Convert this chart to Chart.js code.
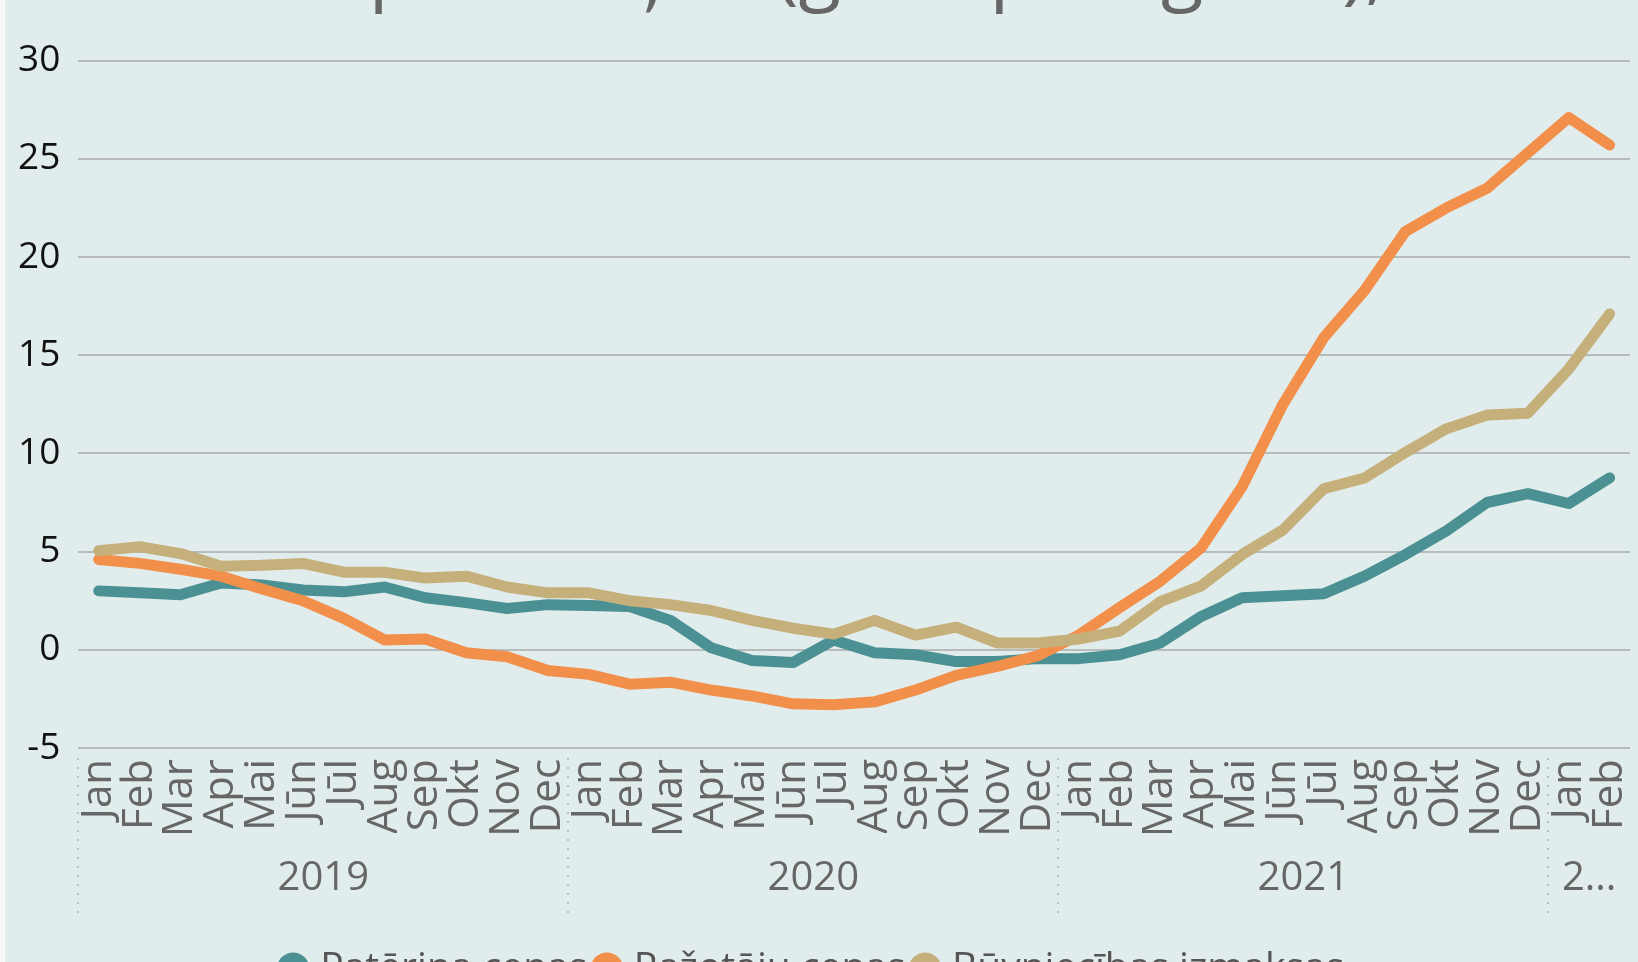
<!DOCTYPE html>
<html>
<head>
<meta charset="utf-8">
<script src="https://cdn.jsdelivr.net/npm/chart.js@4.4.1/dist/chart.umd.min.js"></script>
<style>
  html, body { margin: 0; padding: 0; overflow: hidden; background: #f6f8f8; width: 1638px; height: 962px; }
  #wrap { position: absolute; left: 0; top: -74px; width: 1638px; height: 1072px; background: #e1edec; }
  #edge { position: absolute; left: 0; top: 0; width: 5px; height: 962px; background: #f6f8f8; }
</style>
</head>
<body>
<div id="wrap"><canvas id="chart"></canvas></div>
<div id="edge"></div>
<script>
// cenu pārmaiņas — gads pret gadu, %
const monthNames = ["Jan", "Feb", "Mar", "Apr", "Mai", "Jūn", "Jūl", "Aug", "Sep", "Okt", "Nov", "Dec"];
const months = [...monthNames, ...monthNames, ...monthNames, "Jan", "Feb"];

const years = ["2019", "2020", "2021", "2..."];
const yearCenters = [5.5, 17.5, 29.5, 36.5];
const yearBounds = [-0.5, 11.5, 23.5, 35.5];

const consumerPrices = [
  3.0, 2.9, 2.8, 3.4, 3.3, 3.05, 2.95, 3.2, 2.65, 2.4, 2.1, 2.3,
  2.25, 2.2, 1.5, 0.1, -0.55, -0.65, 0.5, -0.15, -0.25, -0.6, -0.6, -0.45,
  -0.45, -0.25, 0.35, 1.7, 2.65, 2.75, 2.85, 3.75, 4.85, 6.05, 7.5, 7.95, 7.45, 8.75,
];
const producerPrices = [
  4.6, 4.4, 4.1, 3.75, 3.1, 2.5, 1.6, 0.5, 0.55, -0.15, -0.35, -1.05,
  -1.25, -1.75, -1.65, -2.05, -2.35, -2.75, -2.8, -2.65, -2.05, -1.3, -0.85, -0.3,
  0.75, 2.15, 3.5, 5.2, 8.3, 12.5, 15.9, 18.3, 21.3, 22.5, 23.5, 25.3, 27.1, 25.7,
];
const constructionCosts = [
  5.05, 5.25, 4.9, 4.25, 4.3, 4.4, 3.95, 3.95, 3.65, 3.75, 3.2, 2.9,
  2.9, 2.5, 2.3, 2.0, 1.5, 1.1, 0.8, 1.5, 0.75, 1.15, 0.35, 0.35,
  0.55, 0.95, 2.45, 3.25, 4.85, 6.1, 8.2, 8.75, 10.05, 11.25, 11.95, 12.05, 14.3, 17.1,
];

const FONT = "'Segoe UI', 'Open Sans', 'Noto Sans', sans-serif";
const GRID = "#b7bbbb";

function line(label, data, color, order) {
  return {
    label,
    data,
    borderColor: color,
    backgroundColor: color,
    borderWidth: 11,
    borderCapStyle: "round",
    borderJoinStyle: "round",
    pointRadius: 0,
    pointStyle: "circle",
    tension: 0,
    order,
  };
}

// no extra side padding for the rotated month labels
function noSidePad(scale) {
  scale.paddingLeft = 0;
  scale.paddingRight = 0;
}

// dotted separators between the years, under the month labels
const yearSeparators = {
  id: "yearSeparators",
  afterDraw(chart) {
    const x2 = chart.scales.x2;
    const ctx = chart.ctx;
    ctx.save();
    ctx.strokeStyle = "#b9bdbd";
    ctx.lineWidth = 2;
    ctx.setLineDash([2, 7]);
    for (const b of yearBounds) {
      const x = Math.round(x2.getPixelForValue(b));
      ctx.beginPath();
      ctx.moveTo(x, chart.chartArea.bottom + 10);
      ctx.lineTo(x, x2.top + 80);
      ctx.stroke();
    }
    ctx.restore();
  },
};

new Chart(document.getElementById("chart"), {
  type: "line",
  data: {
    labels: months,
    datasets: [
      line("Patēriņa cenas", consumerPrices, "#4b9194", 2),
      line("Ražotāju cenas", producerPrices, "#f2904b", 1),
      line("Būvniecības izmaksas", constructionCosts, "#c5b07b", 0),
    ],
  },
  options: {
    responsive: true,
    maintainAspectRatio: false,
    animation: false,
    layout: { padding: { left: 0, right: 8, top: 0, bottom: 0 } },
    plugins: {
      title: {
        display: true,
        text: "Cenu pārmaiņas (gads pret gadu), %",
        color: "#666666",
        font: { family: FONT, size: 78, weight: "normal" },
        padding: { top: 0, bottom: 41 },
      },
      legend: {
        position: "bottom",
        labels: {
          color: "#555555",
          font: { family: FONT, size: 39 },
          usePointStyle: true,
          boxWidth: 15,
          boxHeight: 15,
          padding: 12,
          sort: (a, b) => a.datasetIndex - b.datasetIndex,
        },
      },
      tooltip: { enabled: false },
    },
    scales: {
      x: {
        type: "category",
        offset: true,
        grid: { display: false },
        border: { display: false },
        afterFit: (scale) => {
          noSidePad(scale);
          scale.height = 85;
        },
        ticks: {
          color: "#666666",
          font: { family: FONT, size: 42 },
          autoSkip: false,
          minRotation: 90,
          maxRotation: 90,
          padding: 3,
        },
      },
      x2: {
        type: "linear",
        position: "bottom",
        min: -0.5,
        max: 37.5,
        grid: { display: false },
        border: { display: false },
        afterBuildTicks: (scale) => {
          scale.ticks = yearCenters.map((v) => ({ value: v }));
        },
        afterFit: (scale) => {
          noSidePad(scale);
          scale.height = 104;
        },
        ticks: {
          color: "#666666",
          font: { family: FONT, size: 40 },
          autoSkip: false,
          maxRotation: 0,
          padding: 14,
          callback: (v) => years[yearCenters.indexOf(v)] ?? "",
        },
      },
      y: {
        min: -5,
        max: 30,
        grid: { color: GRID, lineWidth: 2, drawTicks: false },
        border: { display: false },
        ticks: {
          stepSize: 5,
          color: "#111111",
          font: { family: FONT, size: 37 },
          padding: 18,
        },
      },
    },
  },
  plugins: [yearSeparators],
});
</script>
</body>
</html>
